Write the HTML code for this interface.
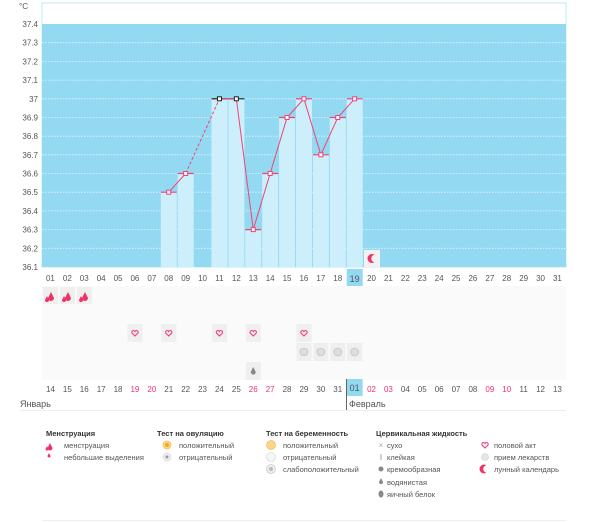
<!DOCTYPE html>
<html><head><meta charset="utf-8"><style>
html,body{margin:0;padding:0;background:#fff;}
svg{display:block;font-family:"Liberation Sans","DejaVu Sans",sans-serif;}
.yl{font-size:8px;fill:#555;text-anchor:end}
.xl{font-size:8px;fill:#555;text-anchor:middle}
.r{fill:#ee3366}
.lg{font-size:7.5px;fill:#555}
.lh{font-size:7.5px;fill:#333;font-weight:bold}
</style></head><body>
<svg width="600" height="522" viewBox="0 0 600 522">
<rect x="42" y="3" width="524" height="264" fill="#fff" stroke="#bfe8f7" stroke-width="1"/>
<rect x="42" y="24" width="524" height="243" fill="#93d9f2"/>
<g stroke="#e8f7fd" stroke-width="0.8" stroke-dasharray="1.5,1.5">
<line x1="42" x2="566" y1="42.7" y2="42.7"/><line x1="42" x2="566" y1="61.4" y2="61.4"/><line x1="42" x2="566" y1="80.1" y2="80.1"/><line x1="42" x2="566" y1="98.8" y2="98.8"/><line x1="42" x2="566" y1="117.5" y2="117.5"/><line x1="42" x2="566" y1="136.2" y2="136.2"/><line x1="42" x2="566" y1="154.8" y2="154.8"/><line x1="42" x2="566" y1="173.5" y2="173.5"/><line x1="42" x2="566" y1="192.2" y2="192.2"/><line x1="42" x2="566" y1="210.9" y2="210.9"/><line x1="42" x2="566" y1="229.6" y2="229.6"/><line x1="42" x2="566" y1="248.3" y2="248.3"/>
</g>
<g fill="#cdeefb">
<rect x="160.8" y="192.2" width="16" height="74.8"/>
<rect x="177.7" y="173.5" width="16" height="93.5"/>
<rect x="211.5" y="98.8" width="16" height="168.2"/>
<rect x="228.4" y="98.8" width="16" height="168.2"/>
<rect x="245.3" y="229.6" width="16" height="37.4"/>
<rect x="262.2" y="173.5" width="16" height="93.5"/>
<rect x="279.1" y="117.5" width="16" height="149.5"/>
<rect x="296" y="98.8" width="16" height="168.2"/>
<rect x="312.9" y="154.8" width="16" height="112.2"/>
<rect x="329.8" y="117.5" width="16" height="149.5"/>
<rect x="346.7" y="98.8" width="16" height="168.2"/>
</g>
<g stroke="#ee4477" stroke-width="1.2">
<line x1="160.8" x2="176.8" y1="192.2" y2="192.2"/><line x1="177.7" x2="193.7" y1="173.5" y2="173.5"/>
<line x1="245.3" x2="261.3" y1="229.6" y2="229.6"/><line x1="262.2" x2="278.2" y1="173.5" y2="173.5"/>
<line x1="279.1" x2="295.1" y1="117.5" y2="117.5"/><line x1="296" x2="312" y1="98.8" y2="98.8"/>
<line x1="312.9" x2="328.9" y1="154.8" y2="154.8"/><line x1="329.8" x2="345.8" y1="117.5" y2="117.5"/>
<line x1="346.7" x2="362.7" y1="98.8" y2="98.8"/>
</g>
<g stroke="#222" stroke-width="1.2"><line x1="211.5" x2="227.5" y1="98.8" y2="98.8"/><line x1="228.4" x2="244.4" y1="98.8" y2="98.8"/></g>
<polyline fill="none" stroke="#ee4477" stroke-width="1" points="168.75,192.2 185.65,173.5"/>
<polyline fill="none" stroke="#ee4477" stroke-width="1" stroke-dasharray="3,2" points="185.65,173.5 219.45,98.8"/>
<polyline fill="none" stroke="#ee4477" stroke-width="1" points="219.45,98.8 236.35,98.8 253.25,229.6 270.15,173.5 287.05,117.5 303.95,98.8 320.85,154.8 337.75,117.5 354.65,98.8"/>
<g fill="#fff" stroke="#ee4477" stroke-width="1">
<rect x="166.75" y="190.2" width="4" height="4"/><rect x="183.65" y="171.5" width="4" height="4"/>
<rect x="251.25" y="227.6" width="4" height="4"/><rect x="268.15" y="171.5" width="4" height="4"/>
<rect x="285.05" y="115.5" width="4" height="4"/><rect x="301.95" y="96.8" width="4" height="4"/>
<rect x="318.85" y="152.8" width="4" height="4"/><rect x="335.75" y="115.5" width="4" height="4"/>
<rect x="352.65" y="96.8" width="4" height="4"/>
</g>
<g fill="#fff" stroke="#222" stroke-width="1"><rect x="217.45" y="96.8" width="4" height="4"/><rect x="234.35" y="96.8" width="4" height="4"/></g>
<rect x="364" y="250" width="16" height="17" fill="#f2f2f2"/>
<circle cx="372" cy="258.5" r="4.5" fill="#ee3366"/><circle cx="375" cy="258.5" r="3.8" fill="#f2f2f2"/>
<text x="28" y="9" class="yl">°C</text>
<text x="38" y="27" class="yl">37.4</text><text x="38" y="45.7" class="yl">37.3</text><text x="38" y="64.4" class="yl">37.2</text><text x="38" y="83.1" class="yl">37.1</text><text x="38" y="101.8" class="yl">37</text><text x="38" y="120.5" class="yl">36.9</text><text x="38" y="139.2" class="yl">36.8</text><text x="38" y="157.8" class="yl">36.7</text><text x="38" y="176.5" class="yl">36.6</text><text x="38" y="195.2" class="yl">36.5</text><text x="38" y="213.9" class="yl">36.4</text><text x="38" y="232.6" class="yl">36.3</text><text x="38" y="251.3" class="yl">36.2</text><text x="38" y="270" class="yl">36.1</text>
<rect x="346.7" y="269" width="16" height="18" fill="#93d9f2"/>
<g class="xl">
<text x="50.45" y="281" class="xl">01</text><text x="67.35" y="281" class="xl">02</text><text x="84.25" y="281" class="xl">03</text><text x="101.15" y="281" class="xl">04</text><text x="118.05" y="281" class="xl">05</text><text x="134.95" y="281" class="xl">06</text><text x="151.85" y="281" class="xl">07</text><text x="168.75" y="281" class="xl">08</text><text x="185.65" y="281" class="xl">09</text><text x="202.55" y="281" class="xl">10</text><text x="219.45" y="281" class="xl">11</text><text x="236.35" y="281" class="xl">12</text><text x="253.25" y="281" class="xl">13</text><text x="270.15" y="281" class="xl">14</text><text x="287.05" y="281" class="xl">15</text><text x="303.95" y="281" class="xl">16</text><text x="320.85" y="281" class="xl">17</text><text x="337.75" y="281" class="xl">18</text><text x="354.65" y="282" class="xl" style="font-size:9px">19</text><text x="371.55" y="281" class="xl">20</text><text x="388.45" y="281" class="xl">21</text><text x="405.35" y="281" class="xl">22</text><text x="422.25" y="281" class="xl">23</text><text x="439.15" y="281" class="xl">24</text><text x="456.05" y="281" class="xl">25</text><text x="472.95" y="281" class="xl">26</text><text x="489.85" y="281" class="xl">27</text><text x="506.75" y="281" class="xl">28</text><text x="523.65" y="281" class="xl">29</text><text x="540.55" y="281" class="xl">30</text><text x="557.45" y="281" class="xl">31</text>
</g>
<g fill="#fafafa">
<rect x="42" y="286" width="524" height="94"/>
</g>
<g fill="#efefef">
<rect x="43" y="287" width="15" height="17"/><rect x="60" y="287" width="15" height="17"/><rect x="77" y="287" width="15" height="17"/>
<rect x="127.5" y="324" width="15" height="18"/><rect x="161.3" y="324" width="15" height="18"/><rect x="212" y="324" width="15" height="18"/><rect x="245.8" y="324" width="15" height="18"/><rect x="296.5" y="324" width="15" height="18"/>
<rect x="296.5" y="343" width="15" height="18"/><rect x="313.4" y="343" width="15" height="18"/><rect x="330.3" y="343" width="15" height="18"/><rect x="347.2" y="343" width="15" height="18"/>
<rect x="245.8" y="362" width="15" height="18"/>
</g>
<g fill="#ee3366">
<path d="M51,292 l3,6 a3,3 0 1,1 -6,0z M47,296 l2,4 a2,2 0 1,1 -4,0z"/>
<path d="M68,292 l3,6 a3,3 0 1,1 -6,0z M64,296 l2,4 a2,2 0 1,1 -4,0z"/>
<path d="M85,292 l3,6 a3,3 0 1,1 -6,0z M81,296 l2,4 a2,2 0 1,1 -4,0z"/>
</g>
<g fill="none" stroke="#ee4477" stroke-width="1.1">
<path d="M135,336 l-3,-3 a1.6,1.6 0 0,1 3,-1.5 a1.6,1.6 0 0,1 3,1.5z"/>
<path d="M168.75,336 l-3,-3 a1.6,1.6 0 0,1 3,-1.5 a1.6,1.6 0 0,1 3,1.5z"/>
<path d="M219.45,336 l-3,-3 a1.6,1.6 0 0,1 3,-1.5 a1.6,1.6 0 0,1 3,1.5z"/>
<path d="M253.25,336 l-3,-3 a1.6,1.6 0 0,1 3,-1.5 a1.6,1.6 0 0,1 3,1.5z"/>
<path d="M303.95,336 l-3,-3 a1.6,1.6 0 0,1 3,-1.5 a1.6,1.6 0 0,1 3,1.5z"/>
</g>
<g fill="#ddd" stroke="#bbb" stroke-width="0.6">
<circle cx="303.95" cy="352" r="4"/><circle cx="320.85" cy="352" r="4"/><circle cx="337.75" cy="352" r="4"/><circle cx="354.65" cy="352" r="4"/>
</g>
<path d="M253.25,367 l2.3,4.5 a2.4,2.4 0 1,1 -4.6,0z" fill="#888"/>
<rect x="346.7" y="379" width="16" height="17" fill="#93d9f2"/>
<line x1="346.5" y1="379" x2="346.5" y2="410" stroke="#666" stroke-width="1"/>
<g>
<text x="50.45" y="392" class="xl">14</text><text x="67.35" y="392" class="xl">15</text><text x="84.25" y="392" class="xl">16</text><text x="101.15" y="392" class="xl">17</text><text x="118.05" y="392" class="xl">18</text><text x="134.95" y="392" class="xl r">19</text><text x="151.85" y="392" class="xl r">20</text><text x="168.75" y="392" class="xl">21</text><text x="185.65" y="392" class="xl">22</text><text x="202.55" y="392" class="xl">23</text><text x="219.45" y="392" class="xl">24</text><text x="236.35" y="392" class="xl">25</text><text x="253.25" y="392" class="xl r">26</text><text x="270.15" y="392" class="xl r">27</text><text x="287.05" y="392" class="xl">28</text><text x="303.95" y="392" class="xl">29</text><text x="320.85" y="392" class="xl">30</text><text x="337.75" y="392" class="xl">31</text><text x="354.65" y="391" class="xl" style="font-size:9px">01</text><text x="371.55" y="392" class="xl r">02</text><text x="388.45" y="392" class="xl r">03</text><text x="405.35" y="392" class="xl">04</text><text x="422.25" y="392" class="xl">05</text><text x="439.15" y="392" class="xl">06</text><text x="456.05" y="392" class="xl">07</text><text x="472.95" y="392" class="xl">08</text><text x="489.85" y="392" class="xl r">09</text><text x="506.75" y="392" class="xl r">10</text><text x="523.65" y="392" class="xl">11</text><text x="540.55" y="392" class="xl">12</text><text x="557.45" y="392" class="xl">13</text>
</g>
<text x="20" y="407" style="font-size:9px;fill:#555">Январь</text>
<text x="349" y="407" style="font-size:9px;fill:#555">Февраль</text>
<line x1="20" x2="566" y1="410.5" y2="410.5" stroke="#eee"/>
<line x1="42" x2="566" y1="520.5" y2="520.5" stroke="#eee"/>
<text x="46" y="436" class="lh">Менструация</text>
<text x="157" y="436" class="lh">Тест на овуляцию</text>
<text x="266" y="436" class="lh">Тест на беременность</text>
<text x="376" y="436" class="lh">Цервикальная жидкость</text>
<path d="M50,443 l2.5,5 a2.5,2.5 0 1,1 -5,0z M47,446 l1.5,3 a1.5,1.5 0 1,1 -3,0z" fill="#ee3366"/>
<text x="64" y="448" class="lg">менструация</text>
<path d="M49,453 l1.5,3 a1.5,1.5 0 1,1 -3,0z" fill="#ee3366"/>
<text x="64" y="460" class="lg">небольшие выделения</text>
<circle cx="167" cy="445" r="4" fill="#fbd68a" stroke="#f3c060" stroke-width="0.8"/><circle cx="167" cy="445" r="2" fill="#f5a623"/>
<text x="179" y="448" class="lg">положительный</text>
<circle cx="167" cy="457" r="4" fill="#eee" stroke="#ddd" stroke-width="0.8"/><circle cx="167" cy="457" r="1.5" fill="#999"/>
<text x="179" y="460" class="lg">отрицательный</text>
<circle cx="271" cy="445" r="4.5" fill="#fbd68a" stroke="#f3c060" stroke-width="0.8"/>
<text x="283" y="448" class="lg">положительный</text>
<circle cx="271" cy="457" r="4.5" fill="#f6f6f6" stroke="#ddd" stroke-width="0.8"/>
<text x="283" y="460" class="lg">отрицательный</text>
<circle cx="271" cy="469" r="4.5" fill="#eee" stroke="#ccc" stroke-width="0.8"/><circle cx="271" cy="469" r="2" fill="#bbb"/>
<text x="283" y="472" class="lg">слабоположительный</text>
<text x="381" y="448" style="font-size:8px;fill:#aaa;text-anchor:middle">×</text>
<text x="387" y="448" class="lg">сухо</text>
<text x="381" y="460" style="font-size:8px;fill:#888;text-anchor:middle">I</text>
<text x="387" y="460" class="lg">клейкая</text>
<circle cx="381" cy="469" r="2.5" fill="#888"/>
<text x="387" y="472" class="lg">кремообразная</text>
<path d="M381,478 l2,4 a2,2 0 1,1 -4,0z" fill="#888"/>
<text x="387" y="485" class="lg">водянистая</text>
<ellipse cx="381" cy="494" rx="2.5" ry="3.5" fill="#888"/>
<text x="387" y="497" class="lg">яичный белок</text>
<path d="M485,448 l-3,-3 a1.6,1.6 0 0,1 3,-1.5 a1.6,1.6 0 0,1 3,1.5z" fill="none" stroke="#ee4477" stroke-width="1.1"/>
<text x="494" y="448" class="lg">половой акт</text>
<circle cx="485" cy="457" r="3.5" fill="#e6e6e6" stroke="#ccc" stroke-width="0.6"/>
<text x="494" y="460" class="lg">прием лекарств</text>
<circle cx="484" cy="469" r="4.5" fill="#ee3366"/><circle cx="487" cy="469" r="3.8" fill="#fff"/>
<text x="494" y="472" class="lg">лунный календарь</text>
</svg>
</body></html>
